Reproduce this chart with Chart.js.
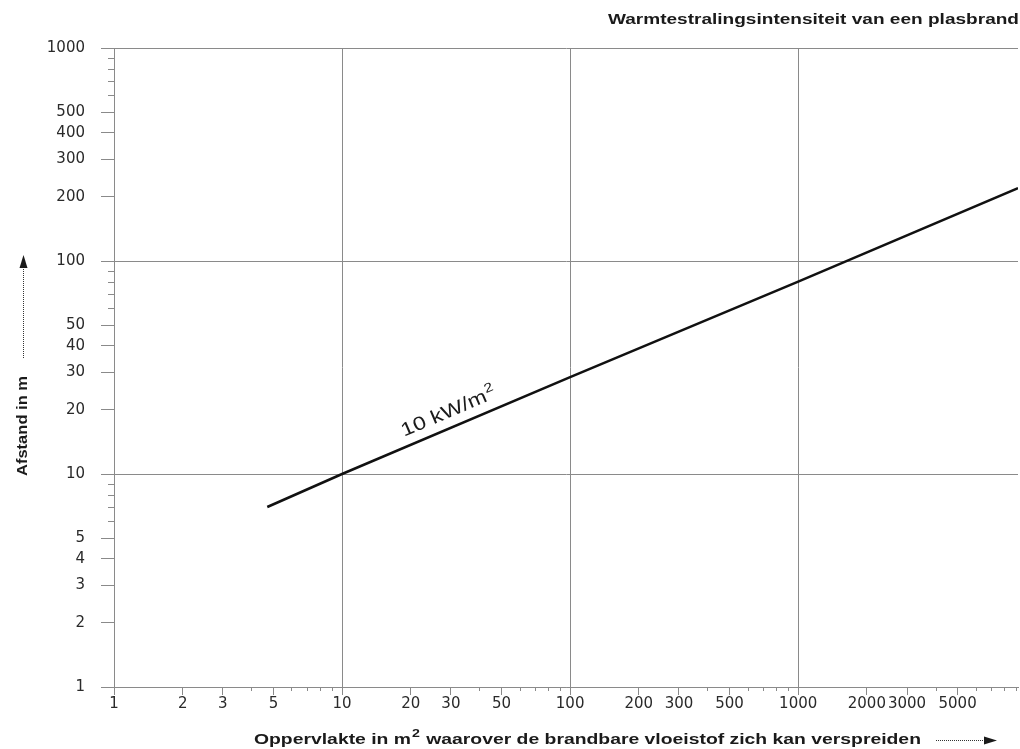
<!DOCTYPE html>
<html>
<head>
<meta charset="utf-8">
<script src="https://cdn.jsdelivr.net/npm/chart.js@4.4.0/dist/chart.umd.min.js"></script>
<style>
  html, body { margin: 0; padding: 0; background: #fff; }
  #wrap { width: 1020px; height: 749px; }
</style>
</head>
<body>
<div id="wrap"><canvas id="grafiekPlasbrand"></canvas></div>
<script>
// gemeten punten van de 10 kW/m2 lijn
const oppervlakte = [4.7, 10, 100, 1000, 9200];
const afstand = [7.0, 10, 28.5, 80, 220];

// tick posities en welke een label krijgen
const xTickWaarden = [1, 2, 3, 4, 5, 6, 7, 8, 9, 10, 20, 30, 40, 50, 60, 70, 80, 90,
  100, 200, 300, 400, 500, 600, 700, 800, 900, 1000, 2000, 3000, 4000, 5000, 6000, 7000, 8000, 9000];
const xLabels = [1, 2, 3, 5, 10, 20, 30, 50, 100, 200, 300, 500, 1000, 2000, 3000, 5000];
const yTickWaarden = [1, 2, 3, 4, 5, 6, 7, 8, 9, 10, 20, 30, 40, 50, 60, 70, 80, 90,
  100, 200, 300, 400, 500, 600, 700, 800, 900, 1000];
const yLabels = [1, 2, 3, 4, 5, 10, 20, 30, 40, 50, 100, 200, 300, 400, 500, 1000];
const decaden = [1, 10, 100, 1000];

const lijnLabel = '10 kW/m';
const titel = 'Warmtestralingsintensiteit van een plasbrand';
const xTitel = ['Oppervlakte in m', '2', ' waarover de brandbare vloeistof zich kan verspreiden'];
const yTitel = 'Afstand in m';

const FONT = '"Liberation Sans", Arial, sans-serif';
const TICKFONT = '"DejaVu Sans", sans-serif';
const gridKleur = '#8a8a8a';

// tekst iets breder getrokken, zoals in het origineel
function breedTekst(ctx, tekst, x, y, sx) {
  ctx.save();
  ctx.translate(x, y);
  ctx.scale(sx, 1);
  ctx.fillText(tekst, 0, 0);
  ctx.restore();
  return ctx.measureText(tekst).width * sx;
}

const teksten = {
  id: 'teksten',
  afterDatasetsDraw(chart) {
    const ctx = chart.ctx;
    const xs = chart.scales.x, ys = chart.scales.y;

    // korte tickjes zonder label
    ctx.save();
    ctx.strokeStyle = gridKleur;
    ctx.lineWidth = 1;
    ctx.beginPath();
    xTickWaarden.filter(v => !xLabels.includes(v)).forEach(v => {
      const px = Math.round(xs.getPixelForValue(v)) + 0.5;
      ctx.moveTo(px, ys.bottom);
      ctx.lineTo(px, ys.bottom + 4);
    });
    yTickWaarden.filter(v => !yLabels.includes(v)).forEach(v => {
      const py = Math.round(ys.getPixelForValue(v)) + 0.5;
      ctx.moveTo(xs.left - 6, py);
      ctx.lineTo(xs.left, py);
    });
    ctx.stroke();
    ctx.restore();

    // label langs de lijn
    const p1x = xs.getPixelForValue(oppervlakte[1]), p1y = ys.getPixelForValue(afstand[1]);
    const p2x = xs.getPixelForValue(oppervlakte[2]), p2y = ys.getPixelForValue(afstand[2]);
    const hoek = Math.atan2(p2y - p1y, p2x - p1x);
    const ax = xs.getPixelForValue(31);
    const ay = p1y + (ax - p1x) * (p2y - p1y) / (p2x - p1x);
    const sx = 1.22;
    ctx.save();
    ctx.translate(ax, ay);
    ctx.rotate(hoek);
    ctx.fillStyle = '#1a1a1a';
    ctx.textBaseline = 'alphabetic';
    ctx.font = '19px ' + FONT;
    const w1 = ctx.measureText(lijnLabel).width * sx;
    ctx.font = '13px ' + FONT;
    const w2 = ctx.measureText('2').width * sx;
    const start = -(w1 + w2) / 2;
    ctx.font = '19px ' + FONT;
    breedTekst(ctx, lijnLabel, start, -10, sx);
    ctx.font = '13px ' + FONT;
    breedTekst(ctx, '2', start + w1 + 1, -18, sx);
    ctx.restore();
  },
  afterDraw(chart) {
    const ctx = chart.ctx;
    ctx.save();
    ctx.fillStyle = '#1a1a1a';
    ctx.strokeStyle = '#333';
    ctx.textAlign = 'left';
    ctx.textBaseline = 'alphabetic';

    // titel rechtsboven
    ctx.font = 'bold 15px ' + FONT;
    const tw = ctx.measureText(titel).width * 1.27;
    breedTekst(ctx, titel, 1019 - tw, 24, 1.27);

    // x-as titel
    let x = 254;
    const yb = 744;
    ctx.font = 'bold 15px ' + FONT;
    x += breedTekst(ctx, xTitel[0], x, yb, 1.29) + 1;
    ctx.font = 'bold 11px ' + FONT;
    x += breedTekst(ctx, xTitel[1], x, yb - 7, 1.29) + 1;
    ctx.font = 'bold 15px ' + FONT;
    breedTekst(ctx, xTitel[2], x, yb, 1.29);

    // pijl x-as
    ctx.lineWidth = 1;
    ctx.setLineDash([1, 1]);
    ctx.beginPath();
    ctx.moveTo(936, 740.5);
    ctx.lineTo(988, 740.5);
    ctx.stroke();
    ctx.setLineDash([]);
    ctx.beginPath();
    ctx.moveTo(997, 740.5);
    ctx.lineTo(984, 736.5);
    ctx.lineTo(984, 744.5);
    ctx.closePath();
    ctx.fill();

    // y-as titel
    ctx.save();
    ctx.translate(27, 476);
    ctx.rotate(-Math.PI / 2);
    ctx.font = 'bold 14px ' + FONT;
    breedTekst(ctx, yTitel, 0, 0, 1.18);
    ctx.restore();

    // pijl y-as
    ctx.setLineDash([1, 1]);
    ctx.beginPath();
    ctx.moveTo(23.5, 358);
    ctx.lineTo(23.5, 266);
    ctx.stroke();
    ctx.setLineDash([]);
    ctx.beginPath();
    ctx.moveTo(23.5, 255);
    ctx.lineTo(19.5, 268);
    ctx.lineTo(27.5, 268);
    ctx.closePath();
    ctx.fill();
    ctx.restore();
  }
};

const ctx = document.getElementById('grafiekPlasbrand').getContext('2d');

new Chart(ctx, {
  type: 'line',
  data: {
    datasets: [{
      label: '10 kW/m2',
      data: oppervlakte.map((opp, i) => ({ x: opp, y: afstand[i] })),
      borderColor: '#111',
      borderWidth: 2.5,
      pointRadius: 0,
      tension: 0,
      fill: false
    }]
  },
  options: {
    responsive: true,
    maintainAspectRatio: false,
    animation: false,
    layout: { padding: { top: 48, right: 2, left: 0, bottom: 0 } },
    plugins: {
      legend: { display: false },
      tooltip: { enabled: false },
      title: { display: false }
    },
    scales: {
      x: {
        type: 'logarithmic',
        min: 1,
        max: 9200,
        afterBuildTicks: scale => { scale.ticks = xTickWaarden.map(v => ({ value: v })); },
        afterFit: scale => { scale.height = 62; },
        ticks: {
          autoSkip: false,
          maxRotation: 0,
          minRotation: 0,
          padding: 0,
          color: '#2a2a2a',
          font: { family: TICKFONT, size: 15 },
          callback: value => xLabels.includes(value) ? String(value) : ''
        },
        grid: {
          color: c => decaden.includes(c.tick && c.tick.value) ? gridKleur : 'transparent',
          tickColor: c => xLabels.includes(c.tick && c.tick.value) ? gridKleur : 'transparent',
          tickLength: 8,
          lineWidth: 1
        },
        border: { display: true, color: gridKleur }
      },
      y: {
        type: 'logarithmic',
        min: 1,
        max: 1000,
        afterBuildTicks: scale => { scale.ticks = yTickWaarden.map(v => ({ value: v })); },
        afterFit: scale => { scale.width = 114; },
        ticks: {
          autoSkip: false,
          padding: 16,
          color: '#2a2a2a',
          font: { family: TICKFONT, size: 15 },
          callback: value => yLabels.includes(value) ? String(value) : ''
        },
        grid: {
          color: c => decaden.includes(c.tick && c.tick.value) ? gridKleur : 'transparent',
          tickColor: c => yLabels.includes(c.tick && c.tick.value) ? gridKleur : 'transparent',
          tickLength: 13,
          lineWidth: 1
        },
        border: { display: true, color: gridKleur }
      }
    }
  },
  plugins: [teksten]
});
</script>
</body>
</html>
